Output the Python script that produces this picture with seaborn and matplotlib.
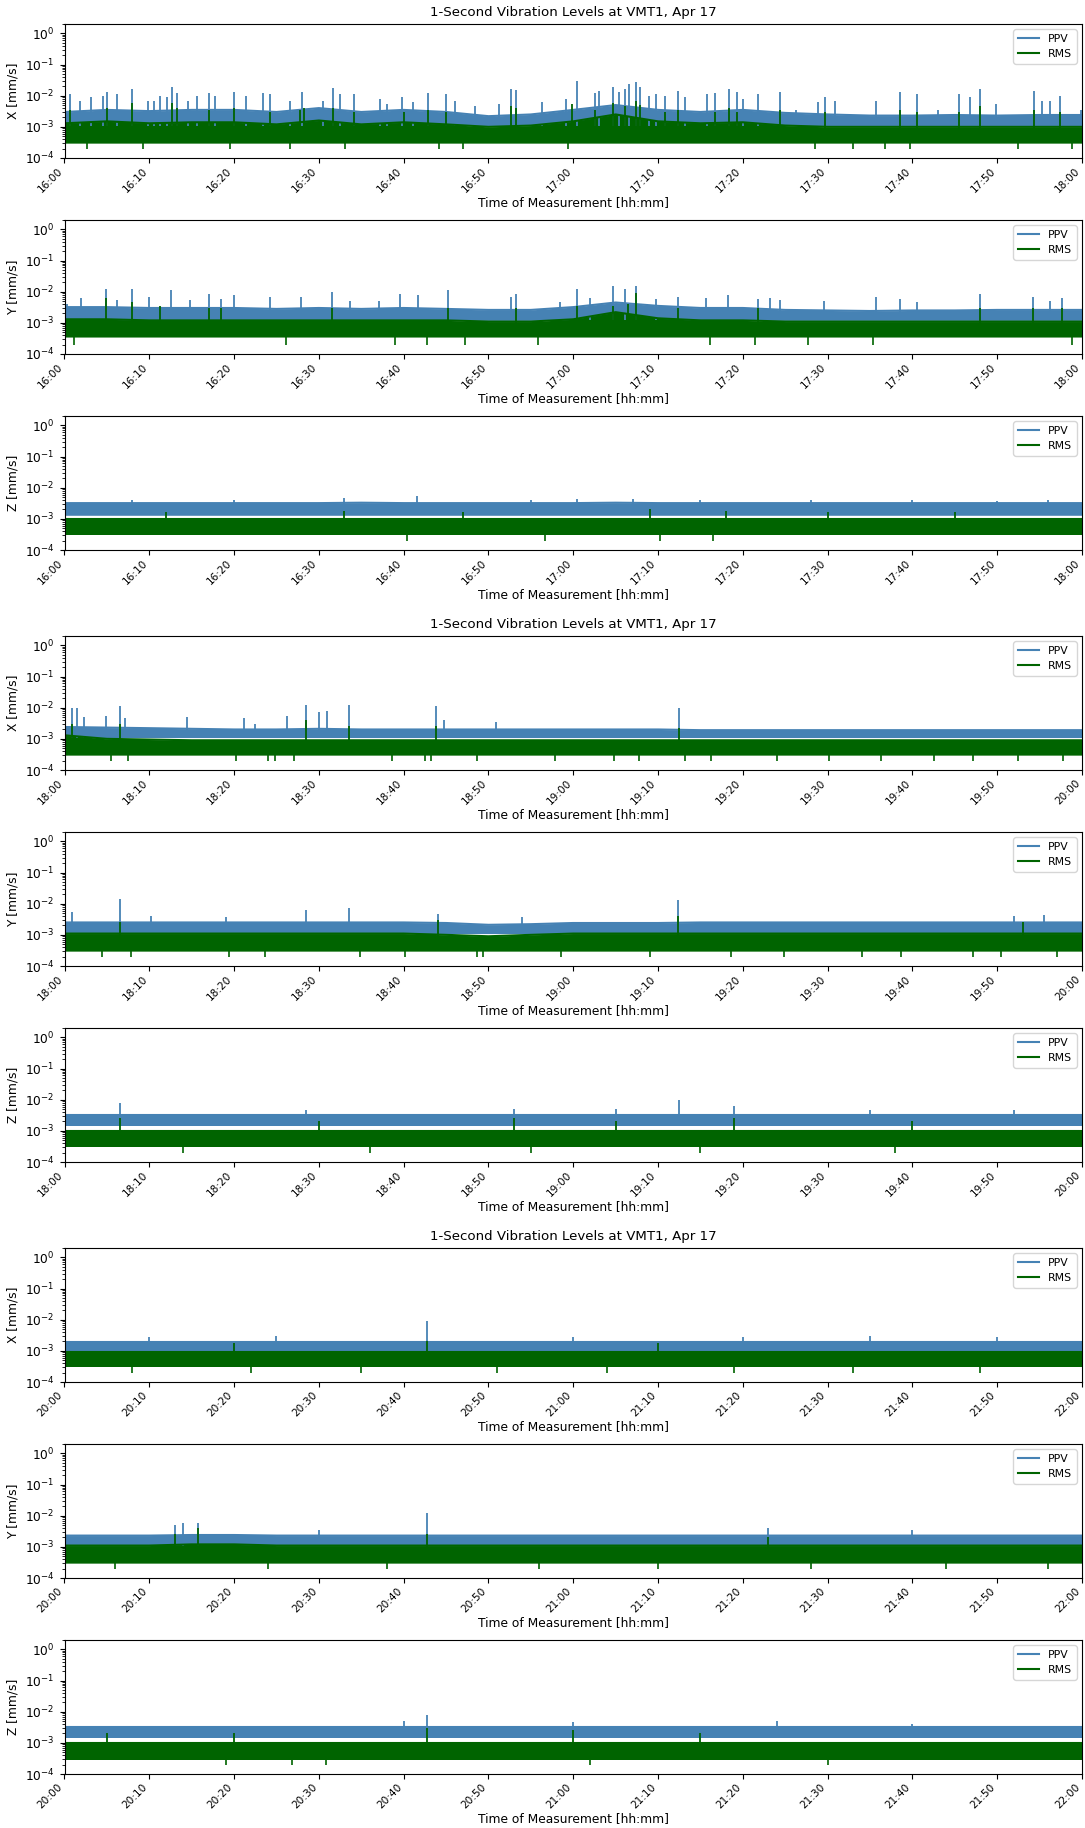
import numpy as np
import pandas as pd
import matplotlib
matplotlib.use('Agg')
import matplotlib.pyplot as plt
import matplotlib.dates as mdates
import seaborn as sns

TITLE = '1-Second Vibration Levels at VMT1, Apr 17'
STARTS = ['2024-04-17 16:00', '2024-04-17 18:00', '2024-04-17 20:00']
PPV_COLOR = 'steelblue'
RMS_COLOR = 'darkgreen'

# body of each trace, read every 5 minutes (mm/s, x1e-3), plus floor level,
# the single spikes sticking out of it and the RMS dips below the floor
# (minutes after start, mm/s x1e-3)

# --- 16:00-18:00 ---
x1_ppv_floor = 1.1
x1_ppv_top = [3.0, 3.5, 3.2, 3.5, 3.5, 3.0, 4.0, 3.0, 3.5, 3.0, 2.2, 2.5, 3.5,
              5.0, 3.5, 3.0, 3.5, 2.8, 2.5, 2.3, 2.3, 2.4, 2.3, 2.4, 2.4]
x1_rms_floor = 0.3
x1_rms_top = [1.3, 1.5, 1.3, 1.4, 1.4, 1.2, 1.6, 1.2, 1.4, 1.2, 1.0, 1.1, 1.5,
              2.5, 1.5, 1.3, 1.4, 1.1, 1.0, 1.0, 1.0, 1.0, 1.0, 1.0, 1.0]
x1_ppv_spike_t = [0.6, 1.8, 3.1, 4.5, 5.0, 6.2, 8.0, 9.9, 10.6, 11.3, 12.1, 12.7, 13.3,
                  14.6, 15.6, 17.1, 17.7, 20.0, 21.4, 23.4, 24.2, 26.6, 28.0, 30.5,
                  31.7, 32.5, 34.2, 37.2, 38.0, 39.8, 41.1, 42.9, 45.0, 46.1, 48.4,
                  51.2, 52.7, 53.3, 56.3, 59.2, 60.4, 62.6, 63.0, 64.7, 65.4, 66.1,
                  66.6, 67.4, 67.9, 68.9, 69.8, 70.8, 72.4, 73.2, 75.8, 76.7, 78.4,
                  79.3, 80.0, 81.8, 84.4, 86.3, 88.9, 89.7, 90.9, 95.7, 98.5, 100.5,
                  103.0, 105.5, 106.8, 108.0, 109.9, 114.3, 115.3, 116.2, 117.4, 119.9]
x1_ppv_spike_v = [11, 7, 9, 10, 13, 11, 17, 7, 7, 10, 9, 19, 12,
                  7, 10, 12, 10, 13, 10, 12, 11, 7, 13, 7,
                  18, 11, 11, 8, 5.5, 9, 6.5, 12, 11, 7, 4.5,
                  5.5, 16, 15, 6.5, 8, 30, 12, 14, 19, 13, 17,
                  24, 27, 19, 10, 11, 10, 14, 9, 11, 12, 16,
                  13, 8, 11, 13, 3.5, 6.5, 9, 7, 7, 13, 11,
                  3.5, 11, 9, 16, 5.5, 14, 7, 7, 10, 3.5]
x1_rms_spike_t = [0.6, 5.0, 8.0, 12.7, 13.3, 17.1, 20.0, 24.2, 27.8, 28.3, 31.7, 34.2,
                  40.0, 42.9, 45.0, 52.7, 53.3, 59.9, 62.6, 64.7, 66.1, 67.4, 67.9,
                  70.8, 72.4, 76.7, 78.4, 79.3, 84.4, 89.7, 98.5, 100.5, 105.5, 108.0,
                  114.3, 117.4]
x1_rms_spike_v = [3.5, 4, 6, 5.7, 4, 3.5, 4, 3, 3.5, 4, 4, 3,
                  3, 3.5, 3, 4.5, 4, 5.5, 3.5, 6, 4.5, 7, 5,
                  3, 3.5, 3, 4, 3, 3.5, 3, 3.5, 3, 3, 4.5,
                  3.5, 3]
x1_rms_dip_t = [2.6, 9.2, 19.5, 26.6, 33.1, 44.2, 47.0, 59.4, 88.5, 93.0, 96.8,
                99.7, 112.4, 118.8]
x1_rms_dip_v = [0.2, 0.2, 0.2, 0.2, 0.2, 0.2, 0.2, 0.2, 0.2, 0.2, 0.2,
                0.2, 0.2, 0.2]

y1_ppv_floor = 1.2
y1_ppv_top = [3.2, 3.2, 3.0, 3.0, 3.0, 2.8, 3.0, 2.8, 3.0, 2.8, 2.6, 2.6, 3.2,
              4.5, 3.5, 3.0, 3.0, 2.6, 2.5, 2.4, 2.5, 2.5, 2.6, 2.6, 2.6]
y1_rms_floor = 0.35
y1_rms_top = [1.3, 1.3, 1.2, 1.2, 1.2, 1.2, 1.2, 1.2, 1.2, 1.2, 1.1, 1.1, 1.3,
              2.2, 1.4, 1.2, 1.2, 1.1, 1.1, 1.1, 1.1, 1.1, 1.1, 1.1, 1.1]
y1_ppv_spike_t = [0.3, 1.9, 4.9, 6.2, 8.0, 10.0, 12.6, 14.8, 17.1, 18.5, 20.0, 24.2,
                  27.9, 31.5, 33.7, 37.1, 39.6, 41.7, 45.2, 52.7, 53.2, 58.4, 60.4,
                  62.0, 64.7, 66.1, 67.4, 69.8, 72.4, 75.7, 78.3, 81.8, 83.2, 84.4,
                  89.6, 95.7, 98.5, 100.5, 108.0, 114.2, 116.2, 117.7]
y1_ppv_spike_v = [4, 6.5, 12, 5.5, 12, 7, 11, 5.5, 8.5, 6, 8, 7,
                  7, 10, 5, 5, 8.5, 8, 11, 7, 8.5, 4.5, 12,
                  6.5, 15, 12, 15, 6, 7, 6.5, 8, 6, 6.5, 5.5,
                  5, 7, 6, 4.5, 8.5, 7, 5, 6.5]
y1_rms_spike_t = [4.9, 8.0, 11.3, 17.1, 18.5, 31.5, 45.2, 53.2, 60.4, 64.7, 66.5,
                  67.4, 72.4, 81.8, 108.0, 114.2, 117.7]
y1_rms_spike_v = [6.5, 4.5, 3.5, 3, 3, 3, 3, 3, 3.5, 3.5, 4,
                  9, 3, 3, 3, 3, 3]
y1_rms_dip_t = [1.1, 26.1, 39.0, 42.7, 47.2, 55.9, 76.1, 81.4, 87.7, 95.4, 118.8]
y1_rms_dip_v = [0.2, 0.2, 0.2, 0.2, 0.2, 0.2, 0.2, 0.2, 0.2, 0.2, 0.2]

z1_ppv_floor = 1.3
z1_ppv_top = [3.2, 3.2, 3.2, 3.2, 3.2, 3.2, 3.2, 3.3, 3.2, 3.2, 3.2, 3.2, 3.2,
              3.3, 3.2, 3.2, 3.2, 3.2, 3.2, 3.2, 3.2, 3.2, 3.2, 3.2, 3.2]
z1_rms_floor = 0.3
z1_rms_top = [1.0, 1.0, 1.0, 1.0, 1.0, 1.0, 1.0, 1.0, 1.0, 1.0, 1.0, 1.0, 1.0,
              1.0, 1.0, 1.0, 1.0, 1.0, 1.0, 1.0, 1.0, 1.0, 1.0, 1.0, 1.0]
z1_ppv_spike_t = [8, 20, 33, 41.6, 55, 60.5, 67, 75, 88, 100, 110, 116]
z1_ppv_spike_v = [4, 4, 4.5, 5.5, 4, 4.2, 4.2, 4, 4, 4, 3.8, 4]
z1_rms_spike_t = [12, 33, 47, 69, 78, 90, 105]
z1_rms_spike_v = [1.6, 1.8, 1.6, 2.0, 1.8, 1.6, 1.6]
z1_rms_dip_t = [40.4, 56.7, 70.2, 76.5]
z1_rms_dip_v = [0.2, 0.2, 0.2, 0.2]

# --- 18:00-20:00 ---
x2_ppv_floor = 1.1
x2_ppv_top = [2.4, 2.3, 2.2, 2.1, 2.0, 2.0, 2.1, 2.0, 2.0, 2.0, 2.0, 2.0, 2.0,
              2.0, 2.0, 1.9, 1.9, 1.9, 1.9, 1.9, 1.9, 1.9, 1.9, 1.9, 1.9]
x2_rms_floor = 0.3
x2_rms_top = [1.3, 1.0, 0.95, 0.9, 0.9, 0.9, 0.9, 0.9, 0.9, 0.9, 0.9, 0.9, 0.9,
              0.9, 0.9, 0.9, 0.9, 0.9, 0.9, 0.9, 0.9, 0.9, 0.9, 0.9, 0.9]
x2_ppv_spike_t = [0.1, 0.9, 1.5, 2.3, 4.9, 6.5, 7.1, 14.4, 21.2, 22.5, 26.2, 28.5,
                  30.0, 30.9, 33.5, 43.8, 44.8, 50.9, 72.5]
x2_ppv_spike_v = [9, 10, 10, 5, 5.5, 11, 4.6, 5.2, 4.6, 3, 5.5, 12,
                  7.5, 8, 12.5, 11, 4, 3.5, 9.7]
x2_rms_spike_t = [0.9, 6.5, 28.5, 33.5, 43.8, 72.5]
x2_rms_spike_v = [3, 3, 4, 2.5, 2.5, 2.2]
x2_rms_dip_t = [5.5, 7.5, 20.2, 24.0, 24.8, 27.1, 38.6, 42.5, 43.2, 48.6, 57.8,
                64.8, 67.8, 73.2, 76.3, 84.0, 90.2, 96.3, 102.5, 107.1, 112.5, 117.8]
x2_rms_dip_v = [0.2, 0.2, 0.2, 0.2, 0.2, 0.2, 0.2, 0.2, 0.2, 0.2, 0.2,
                0.2, 0.2, 0.2, 0.2, 0.2, 0.2, 0.2, 0.2, 0.2, 0.2, 0.2]

y2_ppv_floor = 1.1
y2_ppv_top = [2.5, 2.5, 2.5, 2.5, 2.5, 2.5, 2.5, 2.5, 2.5, 2.4, 2.1, 2.2, 2.4,
              2.4, 2.4, 2.5, 2.5, 2.5, 2.5, 2.5, 2.5, 2.5, 2.5, 2.5, 2.5]
y2_rms_floor = 0.3
y2_rms_top = [1.1, 1.1, 1.1, 1.1, 1.1, 1.1, 1.1, 1.1, 1.1, 1.0, 0.9, 1.0, 1.1,
              1.1, 1.1, 1.1, 1.1, 1.1, 1.1, 1.1, 1.1, 1.1, 1.1, 1.1, 1.1]
y2_ppv_spike_t = [0.9, 6.5, 10.2, 19.0, 28.5, 33.5, 44.0, 54.0, 72.3, 112.0, 115.5]
y2_ppv_spike_v = [5.5, 14, 4, 3.7, 6.5, 7.5, 4.8, 3.8, 13, 4, 4.3]
y2_rms_spike_t = [6.5, 44.0, 72.3, 113.0]
y2_rms_spike_v = [2.5, 3, 4, 2.5]
y2_rms_dip_t = [4.4, 7.8, 19.4, 23.6, 34.8, 40.2, 48.6, 49.4, 58.6, 69.0, 78.6,
                84.8, 94.0, 98.6, 107.1, 110.5, 117.1]
y2_rms_dip_v = [0.2, 0.2, 0.2, 0.2, 0.2, 0.2, 0.2, 0.2, 0.2, 0.2, 0.2,
                0.2, 0.2, 0.2, 0.2, 0.2, 0.2]

z2_ppv_floor = 1.4
z2_ppv_top = [3.3, 3.3, 3.3, 3.3, 3.3, 3.3, 3.3, 3.3, 3.3, 3.3, 3.3, 3.3, 3.3,
              3.3, 3.3, 3.3, 3.3, 3.3, 3.3, 3.3, 3.3, 3.3, 3.3, 3.3, 3.3]
z2_rms_floor = 0.3
z2_rms_top = [1.0, 1.0, 1.0, 1.0, 1.0, 1.0, 1.0, 1.0, 1.0, 1.0, 1.0, 1.0, 1.0,
              1.0, 1.0, 1.0, 1.0, 1.0, 1.0, 1.0, 1.0, 1.0, 1.0, 1.0, 1.0]
z2_ppv_spike_t = [6.5, 28.5, 53, 65, 72.5, 79, 95, 112]
z2_ppv_spike_v = [8, 4.5, 5, 5, 9.5, 6.5, 4.5, 4.5]
z2_rms_spike_t = [6.5, 30, 53, 65, 79, 100]
z2_rms_spike_v = [2.5, 2, 2.5, 2, 2.5, 2]
z2_rms_dip_t = [14, 36, 55, 75, 98]
z2_rms_dip_v = [0.2, 0.2, 0.2, 0.2, 0.2]

# --- 20:00-22:00 ---
x3_ppv_floor = 1.0
x3_ppv_top = [1.9, 1.9, 1.9, 1.9, 1.9, 1.9, 1.9, 1.9, 1.9, 1.9, 1.9, 1.9, 1.9,
              1.9, 1.9, 1.9, 1.9, 1.9, 1.9, 1.9, 1.9, 1.9, 1.9, 1.9, 1.9]
x3_rms_floor = 0.3
x3_rms_top = [0.9, 0.9, 0.9, 0.9, 0.9, 0.9, 0.9, 0.9, 0.9, 0.9, 0.9, 0.9, 0.9,
              0.9, 0.9, 0.9, 0.9, 0.9, 0.9, 0.9, 0.9, 0.9, 0.9, 0.9, 0.9]
x3_ppv_spike_t = [10, 25, 42.7, 60, 80, 95, 110]
x3_ppv_spike_v = [2.8, 3, 9, 2.8, 2.8, 3, 2.8]
x3_rms_spike_t = [20, 42.7, 70]
x3_rms_spike_v = [1.8, 2, 1.8]
x3_rms_dip_t = [8, 22, 35, 51, 64, 79, 93, 108]
x3_rms_dip_v = [0.2, 0.2, 0.2, 0.2, 0.2, 0.2, 0.2, 0.2]

y3_ppv_floor = 1.1
y3_ppv_top = [2.3, 2.3, 2.3, 2.4, 2.4, 2.3, 2.3, 2.3, 2.3, 2.3, 2.3, 2.3, 2.3,
              2.3, 2.3, 2.3, 2.3, 2.3, 2.3, 2.3, 2.3, 2.3, 2.3, 2.3, 2.3]
y3_rms_floor = 0.3
y3_rms_top = [1.1, 1.1, 1.1, 1.2, 1.2, 1.1, 1.1, 1.1, 1.1, 1.1, 1.1, 1.1, 1.1,
              1.1, 1.1, 1.1, 1.1, 1.1, 1.1, 1.1, 1.1, 1.1, 1.1, 1.1, 1.1]
y3_ppv_spike_t = [13, 14, 15.7, 30, 42.8, 83, 100]
y3_ppv_spike_v = [5, 6, 6, 3.5, 12, 4, 3.5]
y3_rms_spike_t = [13, 15.7, 42.8, 83]
y3_rms_spike_v = [2.5, 4, 2.5, 2]
y3_rms_dip_t = [6, 24, 38, 56, 70, 88, 104, 116]
y3_rms_dip_v = [0.2, 0.2, 0.2, 0.2, 0.2, 0.2, 0.2, 0.2]

z3_ppv_floor = 1.4
z3_ppv_top = [3.3, 3.3, 3.3, 3.3, 3.3, 3.3, 3.3, 3.3, 3.3, 3.3, 3.3, 3.3, 3.3,
              3.3, 3.3, 3.3, 3.3, 3.3, 3.3, 3.3, 3.3, 3.3, 3.3, 3.3, 3.3]
z3_rms_floor = 0.28
z3_rms_top = [1.0, 1.0, 1.0, 1.0, 1.0, 1.0, 1.0, 1.0, 1.0, 1.0, 1.0, 1.0, 1.0,
              1.0, 1.0, 1.0, 1.0, 1.0, 1.0, 1.0, 1.0, 1.0, 1.0, 1.0, 1.0]
z3_ppv_spike_t = [40, 42.8, 60, 84, 100]
z3_ppv_spike_v = [5, 8, 4.5, 5, 4]
z3_rms_spike_t = [5, 20, 42.8, 60, 75]
z3_rms_spike_v = [2, 2, 3, 2.5, 2]
z3_rms_dip_t = [19.0, 26.8, 30.8, 62, 90]
z3_rms_dip_v = [0.2, 0.2, 0.2, 0.2, 0.2]

panels = [
    (STARTS[0], 'X', x1_ppv_floor, x1_ppv_top, x1_rms_floor, x1_rms_top,
     x1_ppv_spike_t, x1_ppv_spike_v, x1_rms_spike_t, x1_rms_spike_v,
     x1_rms_dip_t, x1_rms_dip_v),
    (STARTS[0], 'Y', y1_ppv_floor, y1_ppv_top, y1_rms_floor, y1_rms_top,
     y1_ppv_spike_t, y1_ppv_spike_v, y1_rms_spike_t, y1_rms_spike_v,
     y1_rms_dip_t, y1_rms_dip_v),
    (STARTS[0], 'Z', z1_ppv_floor, z1_ppv_top, z1_rms_floor, z1_rms_top,
     z1_ppv_spike_t, z1_ppv_spike_v, z1_rms_spike_t, z1_rms_spike_v,
     z1_rms_dip_t, z1_rms_dip_v),
    (STARTS[1], 'X', x2_ppv_floor, x2_ppv_top, x2_rms_floor, x2_rms_top,
     x2_ppv_spike_t, x2_ppv_spike_v, x2_rms_spike_t, x2_rms_spike_v,
     x2_rms_dip_t, x2_rms_dip_v),
    (STARTS[1], 'Y', y2_ppv_floor, y2_ppv_top, y2_rms_floor, y2_rms_top,
     y2_ppv_spike_t, y2_ppv_spike_v, y2_rms_spike_t, y2_rms_spike_v,
     y2_rms_dip_t, y2_rms_dip_v),
    (STARTS[1], 'Z', z2_ppv_floor, z2_ppv_top, z2_rms_floor, z2_rms_top,
     z2_ppv_spike_t, z2_ppv_spike_v, z2_rms_spike_t, z2_rms_spike_v,
     z2_rms_dip_t, z2_rms_dip_v),
    (STARTS[2], 'X', x3_ppv_floor, x3_ppv_top, x3_rms_floor, x3_rms_top,
     x3_ppv_spike_t, x3_ppv_spike_v, x3_rms_spike_t, x3_rms_spike_v,
     x3_rms_dip_t, x3_rms_dip_v),
    (STARTS[2], 'Y', y3_ppv_floor, y3_ppv_top, y3_rms_floor, y3_rms_top,
     y3_ppv_spike_t, y3_ppv_spike_v, y3_rms_spike_t, y3_rms_spike_v,
     y3_rms_dip_t, y3_rms_dip_v),
    (STARTS[2], 'Z', z3_ppv_floor, z3_ppv_top, z3_rms_floor, z3_rms_top,
     z3_ppv_spike_t, z3_ppv_spike_v, z3_rms_spike_t, z3_rms_spike_v,
     z3_rms_dip_t, z3_rms_dip_v),
]

W, H = 1085, 1828
fig = plt.figure(figsize=(W / 100, H / 100), dpi=100)

tops = [24, 220, 416, 636, 832, 1028, 1248, 1444, 1640]
ax_left, ax_right, ax_h = 64.5, 1082, 134


def trace(ax, start, floor, top, spike_t, spike_v, color, label,
          dip_t=(), dip_v=()):
    t0 = pd.Timestamp(start)
    t = pd.date_range(t0, periods=len(top), freq='5min')
    top = np.array(top) * 1e-3
    ax.fill_between(t, floor * 1e-3, top, color=color, lw=0)
    st = t0 + pd.to_timedelta(spike_t, unit='min')
    ax.vlines(st, floor * 1e-3, np.array(spike_v) * 1e-3, color=color, lw=1.3)
    if len(dip_t):
        dt = t0 + pd.to_timedelta(dip_t, unit='min')
        ax.vlines(dt, np.array(dip_v) * 1e-3, floor * 1e-3, color=color, lw=1.2)
    sns.lineplot(x=t, y=top, ax=ax, color=color, lw=1.5, label=label)


for i, p in enumerate(panels):
    (start, comp, ppv_floor, ppv_top, rms_floor, rms_top,
     ppv_t, ppv_v, rms_t, rms_v, dip_t, dip_v) = p
    top = tops[i]
    ax = fig.add_axes([ax_left / W, 1 - (top + ax_h) / H,
                       (ax_right - ax_left) / W, ax_h / H])
    trace(ax, start, ppv_floor, ppv_top, ppv_t, ppv_v, PPV_COLOR, 'PPV')
    trace(ax, start, rms_floor, rms_top, rms_t, rms_v, RMS_COLOR, 'RMS',
          dip_t, dip_v)

    t0 = pd.Timestamp(start)
    ax.set_yscale('log')
    ax.set_ylim(1e-4, 2)
    ax.set_xlim(t0, t0 + pd.Timedelta(hours=2))
    ax.xaxis.set_major_locator(mdates.MinuteLocator(byminute=[0, 10, 20, 30, 40, 50]))
    ax.xaxis.set_major_formatter(mdates.DateFormatter('%H:%M'))
    plt.setp(ax.get_xticklabels(), rotation=45, ha='right', fontsize=7.6)
    ax.tick_params(axis='x', pad=2)
    ax.tick_params(axis='y', labelsize=8.8)
    ax.set_xlabel('Time of Measurement [hh:mm]', fontsize=8.8, labelpad=1)
    ax.set_ylabel(f'{comp} [mm/s]', fontsize=8.8)
    ax.legend(loc='upper right', fontsize=7.8)
    if i % 3 == 0:
        ax.set_title(TITLE, fontsize=9.6)

fig.savefig('out.png', dpi=100)
